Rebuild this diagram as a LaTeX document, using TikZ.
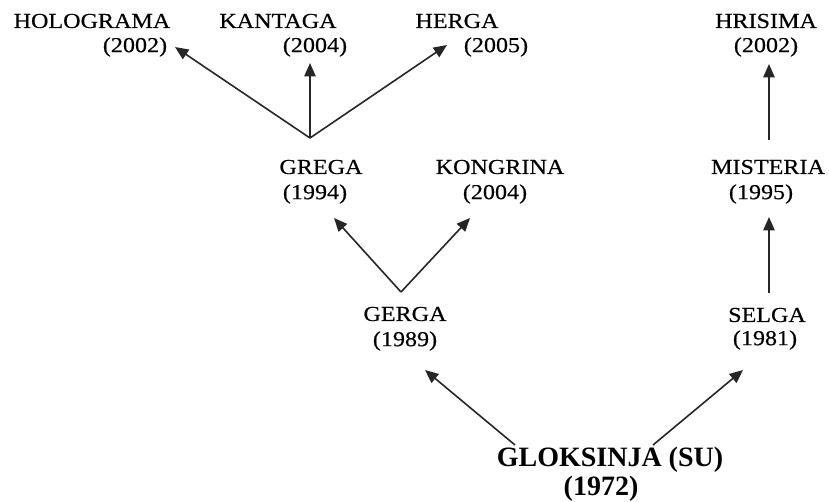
\documentclass[tikz,border=0pt]{standalone}
\usepackage{fontspec}
\setmainfont{Liberation Serif}
\newfontfamily\lblfont[FakeStretch=1.13,FakeBold=0.4]{Liberation Serif}
\usetikzlibrary{arrows.meta}
\tikzset{
  lbl/.style={inner sep=0pt, font=\lblfont\fontsize{16}{19}\selectfont},
  rootlbl/.style={inner sep=0pt, font=\bfseries\fontsize{21}{24}\selectfont},
  arr/.style={line width=1.2pt, draw=black!85, -{Triangle[length=10pt,width=8.5pt]}}
}
\begin{document}
\begin{tikzpicture}[x=0.75pt,y=-0.75pt]
\useasboundingbox (0,0) rectangle (829,501);
% top row
\node[lbl] (holo) at (92,21) {HOLOGRAMA};
\node[lbl] (holoY) at (135,47) {(2002)};
\node[lbl] (kant) at (278,21) {KANTAGA};
\node[lbl] (kantY) at (315,47) {(2004)};
\node[lbl] (herg) at (457,21) {HERGA};
\node[lbl] (hergY) at (496,47) {(2005)};
\node[lbl] (hris) at (766,21) {HRISIMA};
\node[lbl] (hrisY) at (766,47) {(2002)};
% middle row
\node[lbl] (greg) at (321,167) {GREGA};
\node[lbl] (gregY) at (315,194) {(1994)};
\node[lbl] (kong) at (500,167) {KONGRINA};
\node[lbl] (kongY) at (495,194) {(2004)};
\node[lbl] (mist) at (768,167) {MISTERIA};
\node[lbl] (mistY) at (761,194) {(1995)};
% lower row
\node[lbl] (gerg) at (405,314) {GERGA};
\node[lbl] (gergY) at (405,341) {(1989)};
\node[lbl] (selg) at (767,315) {SELGA};
\node[lbl] (selgY) at (765,340) {(1981)};
% root
\node[rootlbl] (glok) at (610,460) {GLOKSINJA (SU)};
\node[rootlbl] (glokY) at (601,489) {(1972)};
% connector ends
\coordinate (gregOut) at (310,138);
\coordinate (holoIn) at (175,47);
\coordinate (kantIn) at (310,63);
\coordinate (hergIn) at (447,45);
\coordinate (gergOut) at (401,292);
\coordinate (gregIn) at (334,218);
\coordinate (kongIn) at (470,218);
\coordinate (selgOut) at (769,293);
\coordinate (mistIn) at (769,217);
\coordinate (mistOut) at (769,140);
\coordinate (hrisIn) at (769,64);
\coordinate (glokOutL) at (515,445);
\coordinate (gergIn) at (425,370);
\coordinate (glokOutR) at (653,445);
\coordinate (selgIn) at (743,370);
% connectors
\draw[arr] (gregOut) -- (holoIn);
\draw[arr] (gregOut) -- (kantIn);
\draw[arr] (gregOut) -- (hergIn);
\draw[arr] (gergOut) -- (gregIn);
\draw[arr] (gergOut) -- (kongIn);
\draw[arr] (selgOut) -- (mistIn);
\draw[arr] (mistOut) -- (hrisIn);
\draw[arr] (glokOutL) -- (gergIn);
\draw[arr] (glokOutR) -- (selgIn);
\end{tikzpicture}
\end{document}
